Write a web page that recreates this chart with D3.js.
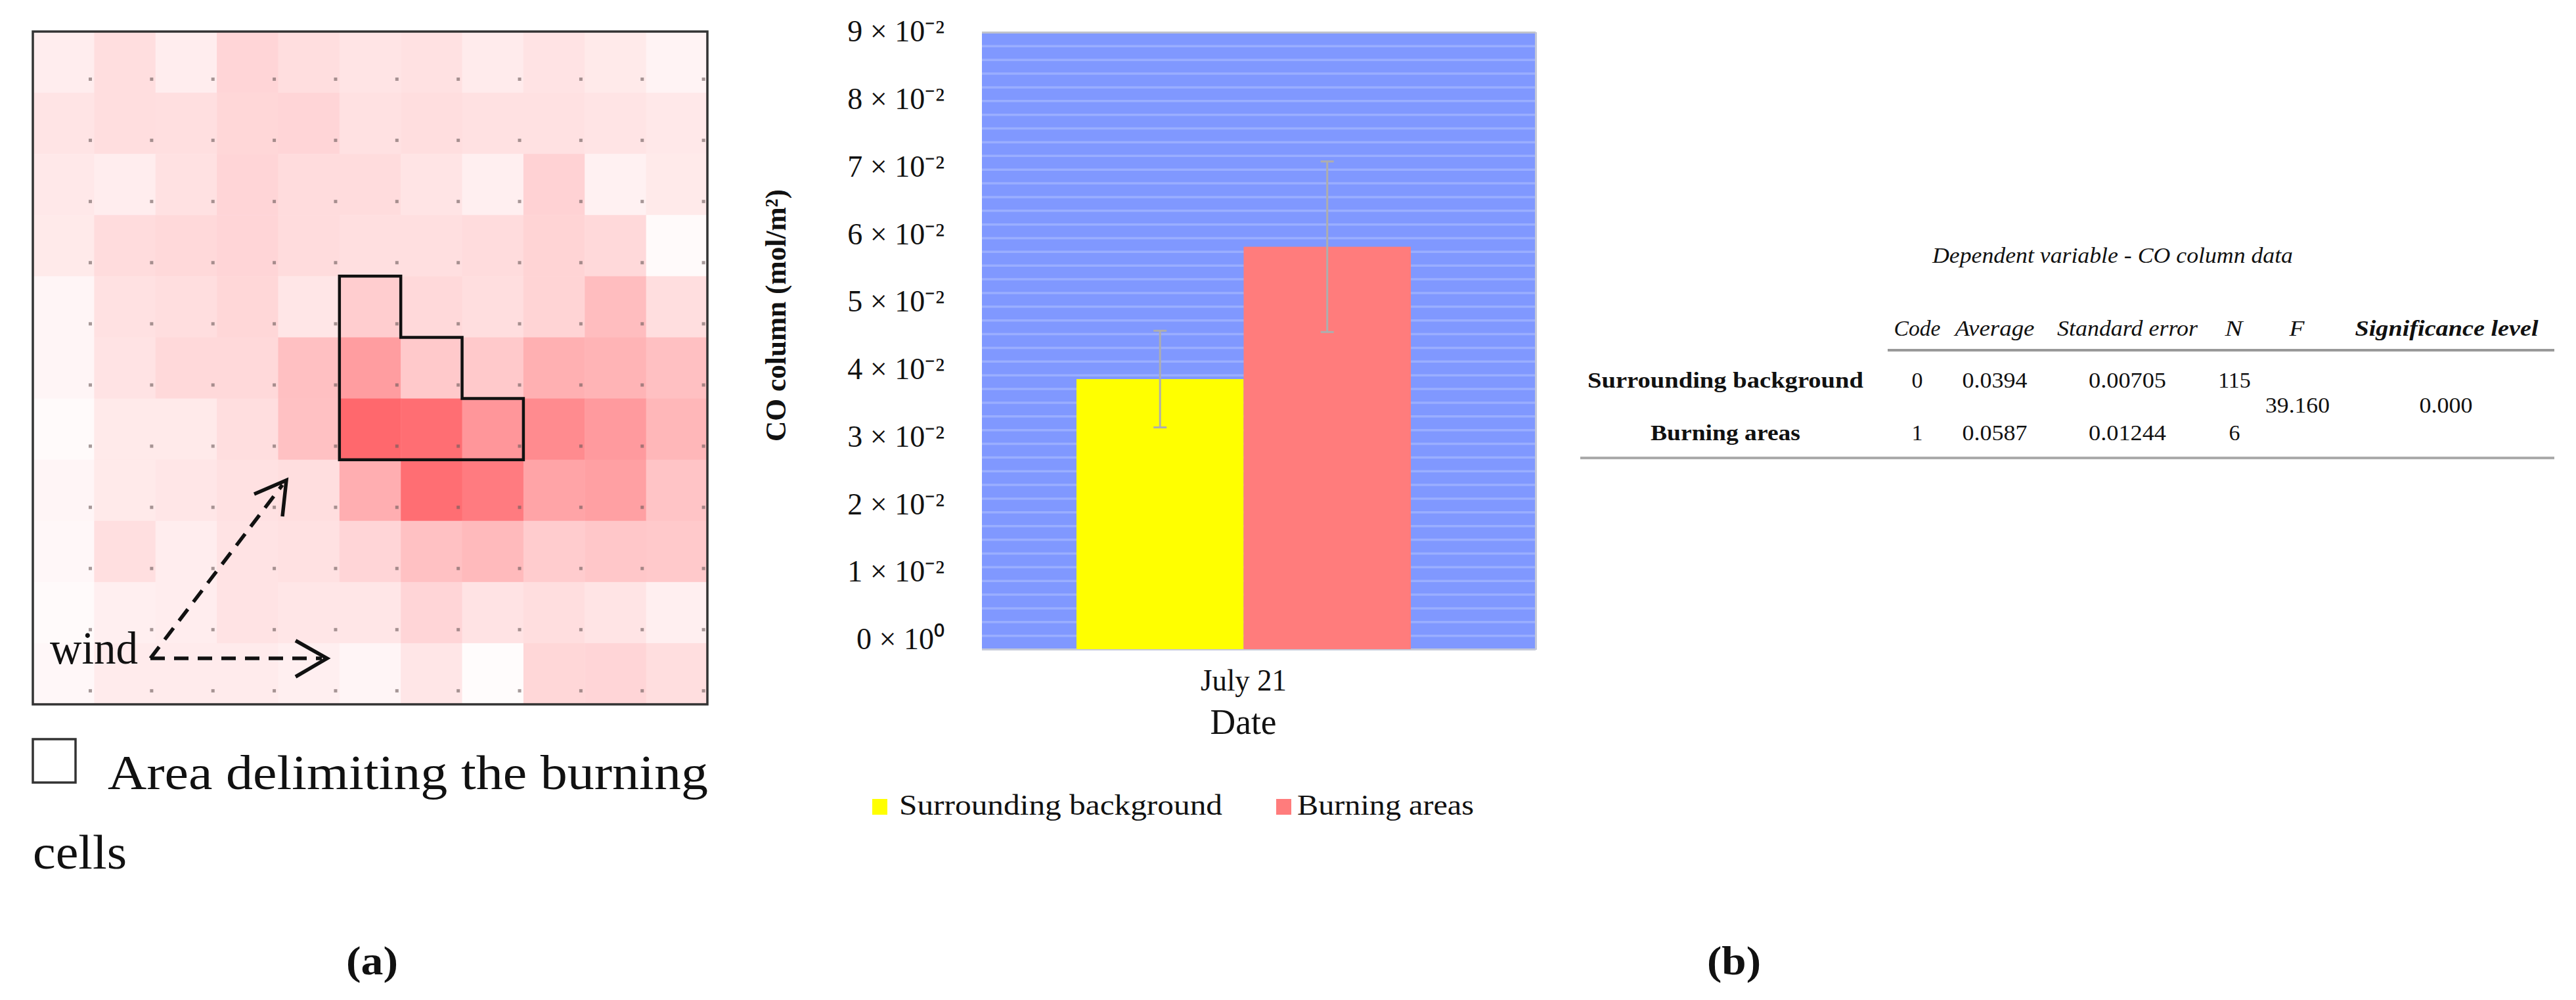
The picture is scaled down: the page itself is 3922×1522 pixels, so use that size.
<!DOCTYPE html>
<html><head><meta charset="utf-8">
<script src="https://cdn.jsdelivr.net/npm/d3@7/dist/d3.min.js"></script>
<style>html,body{margin:0;background:#fff}svg{display:block}text{font-family:"Liberation Serif",serif;fill:#111}</style>
</head><body><svg id="c" width="3922" height="1522"></svg>
<script>
// ---------- data ----------
const heatRows = [
 [.08,.17,.08,.22,.17,.13,.15,.09,.14,.10,.05],
 [.13,.17,.16,.21,.22,.15,.17,.15,.15,.13,.11],
 [.11,.08,.15,.22,.18,.18,.13,.07,.24,.06,.10],
 [.10,.18,.20,.22,.18,.16,.16,.18,.23,.20,.02],
 [.04,.15,.17,.21,.12,.27,.20,.17,.23,.38,.17],
 [.04,.14,.20,.20,.36,.60,.30,.30,.47,.44,.36],
 [.02,.10,.10,.17,.35,1.0,.95,.65,.73,.62,.42],
 [.04,.10,.12,.15,.17,.48,.95,.85,.55,.58,.33],
 [.03,.16,.08,.14,.15,.22,.35,.40,.28,.31,.30],
 [.02,.07,.08,.14,.12,.12,.22,.14,.17,.13,.07],
 [.03,.09,.09,.09,.07,.04,.12,.01,.21,.22,.17]
];
const burnOutline = [[5,4],[6,4],[6,5],[7,5],[7,6],[8,6],[8,7],[5,7]];
const dates = ["July 21"];
const seriesNames = ["Surrounding background","Burning areas"];
const seriesMeans = [0.0394,0.0587];
const seriesErrors = [0.00705,0.01244];
const seriesColors = ["#ffff00","#ff7c7c"];
const tickValues = [0,.01,.02,.03,.04,.05,.06,.07,.08,.09];
const tickLabels = ["0 × 10⁰","1 × 10⁻²","2 × 10⁻²","3 × 10⁻²","4 × 10⁻²","5 × 10⁻²","6 × 10⁻²","7 × 10⁻²","8 × 10⁻²","9 × 10⁻²"];
const tableHeader = ["Code","Average","Standard error","N","F","Significance level"];
const tableCode = ["0","1"];
const tableAverage = ["0.0394","0.0587"];
const tableStdErr = ["0.00705","0.01244"];
const tableN = ["115","6"];
const tableF = "39.160";
const tableSig = "0.000";

const svg = d3.select("#c");
function T(s,x,y,size,opt={}){
  const t = svg.append("text").attr("x",x).attr("y",y).attr("font-size",size)
    .attr("text-anchor",opt.anchor||"start").text(s);
  if(opt.bold) t.attr("font-weight","bold");
  if(opt.italic) t.attr("font-style","italic");
  if(opt.w) t.attr("textLength",opt.w).attr("lengthAdjust","spacingAndGlyphs");
  if(opt.rot) t.attr("transform",`rotate(${opt.rot} ${x} ${y})`);
  return t;
}

// ---------- panel (a) ----------
const cellX = d3.scaleLinear().domain([0,11]).range([50,1077]);
const cellY = d3.scaleLinear().domain([0,11]).range([48,1072]);
const heat = d3.scalePow().exponent(.85).domain([0,1]).range(["#ffffff","#ff686d"]);
const a = svg.append("g");
heatRows.forEach((row,j)=>row.forEach((v,i)=>{
  a.append("rect").attr("x",cellX(i)).attr("y",cellY(j))
   .attr("width",cellX(i+1)-cellX(i)+.5).attr("height",cellY(j+1)-cellY(j)+.5)
   .attr("fill",heat(v));
  a.append("rect").attr("x",cellX(i)+85).attr("y",cellY(j)+70)
   .attr("width",5).attr("height",5).attr("fill","#6a5a5a").attr("opacity",.6);
}));
a.append("rect").attr("x",cellX(0)).attr("y",cellY(0)).attr("width",cellX(11)-cellX(0)).attr("height",cellY(11)-cellY(0))
 .attr("fill","none").attr("stroke","#333").attr("stroke-width",3.5);
a.append("path").attr("d",d3.line().x(d=>cellX(d[0])).y(d=>cellY(d[1])).curve(d3.curveLinearClosed)(burnOutline))
 .attr("fill","none").attr("stroke","#111").attr("stroke-width",4.5).attr("stroke-linejoin","miter");
// wind arrows
const dash = {stroke:"#111","stroke-width":5.5,fill:"none"};
function P(d,dashed){const p=a.append("path").attr("d",d);Object.entries(dash).forEach(([k,v])=>p.attr(k,v));if(dashed)p.attr("stroke-dasharray","22 14");}
P("M229 1002L490 1002",true);
P("M450 975L498 1002L450 1030",false);
P("M229 1002L430 738",true);
P("M387 752L436 731L430 786",false);
T("wind",76,1010,70,{w:134});
// legend for the outline
a.append("rect").attr("x",50).attr("y",1125).attr("width",65).attr("height",66).attr("fill","#fff").attr("stroke","#333").attr("stroke-width",3.5);
T("Area delimiting the burning",164,1201,73,{w:914});
T("cells",50,1322,73,{w:143});
T("(a)",527,1483,62,{bold:true,w:79});

// ---------- panel (b) chart ----------
const y = d3.scaleLinear().domain([0,.09]).range([988,49]);
const yLab = d3.scaleLinear().domain([0,.09]).range([973,48]);
const x0 = d3.scaleBand().domain(dates).range([1495,2338]).paddingInner(0).paddingOuter(.328).align(.431);
const x1 = d3.scaleBand().domain(seriesNames).range([0,x0.bandwidth()]);
svg.append("rect").attr("x",1495).attr("y",y(.09)).attr("width",843).attr("height",y(0)-y(.09)).attr("fill","#8098ff");
const grid = svg.append("g").attr("transform","translate(1495,0)")
  .call(d3.axisRight(y).tickValues(d3.range(1,45).map(k=>k*.002)).tickSize(843).tickFormat(""));
grid.select(".domain").remove();
grid.selectAll("line").attr("stroke","#9aaeff").attr("stroke-width",3.5);
svg.append("rect").attr("x",1495).attr("y",48).attr("width",843).attr("height",3).attr("fill","#bfc2cc");
svg.append("rect").attr("x",1495).attr("y",987).attr("width",843).attr("height",3).attr("fill","#c4c8d8");
svg.append("rect").attr("x",2337).attr("y",49).attr("width",3).attr("height",940).attr("fill","#c4c8d8");
const bars = svg.append("g").attr("transform",`translate(${x0(dates[0])},0)`);
seriesNames.forEach((s,i)=>{
  bars.append("rect").attr("x",x1(s)).attr("y",y(seriesMeans[i])).attr("width",x1.bandwidth()).attr("height",y(0)-y(seriesMeans[i])).attr("fill",seriesColors[i]);
});
seriesNames.forEach((s,i)=>{
  const cx = x1(s)+x1.bandwidth()/2, hi=y(seriesMeans[i]+seriesErrors[i]), lo=y(seriesMeans[i]-seriesErrors[i]);
  const g = bars.append("g").attr("stroke","#aeaeae").attr("stroke-width",3).attr("fill","none");
  g.append("line").attr("x1",cx).attr("x2",cx).attr("y1",hi).attr("y2",lo);
  g.append("line").attr("x1",cx-10).attr("x2",cx+10).attr("y1",hi).attr("y2",hi);
  g.append("line").attr("x1",cx-10).attr("x2",cx+10).attr("y1",lo).attr("y2",lo);
});
// y tick labels
const ax = svg.append("g").attr("transform","translate(1438,0)")
  .call(d3.axisLeft(yLab).tickValues(tickValues).tickSize(0).tickPadding(0).tickFormat((d,i)=>tickLabels[i]));
ax.select(".domain").remove();
ax.selectAll("text").attr("font-size",46).attr("font-family","Liberation Serif").attr("fill","#111");
T("CO column (mol/m²)",1196,480,45,{anchor:"middle",bold:true,rot:-90,w:384});
T(dates[0],x0(dates[0])+x0.bandwidth()/2,1051,47,{anchor:"middle",w:131});
T("Date",1893,1117,54,{anchor:"middle",w:101});
// legend
const lx = [1328,1943], lt=[1369,1975], lw=[492,269];
seriesNames.forEach((s,i)=>{
  svg.append("rect").attr("x",lx[i]).attr("y",1216).attr("width",23).attr("height",24).attr("fill",seriesColors[i]);
  T(s,lt[i],1240,45,{w:lw[i]});
});
T("(b)",2599,1483,62,{bold:true,w:82});

// ---------- panel (b) table ----------
T("Dependent variable - CO column data",2942,400,34,{italic:true,w:549});
const hdrX=[2919,3037,3239,3401,3497,3725], hdrW=[71,121,214,27,23,279];
tableHeader.forEach((h,i)=>T(h,hdrX[i],511,34,{anchor:"middle",italic:true,bold:i==5,w:hdrW[i]}));
svg.append("rect").attr("x",2874).attr("y",531).attr("width",1015).attr("height",4).attr("fill","#999");
const rowY=[590,670];
T(seriesNames[0],2627,rowY[0],34,{anchor:"middle",bold:true,w:420});
T(seriesNames[1],2627,rowY[1],34,{anchor:"middle",bold:true,w:228});
[0,1].forEach(r=>{
  T(tableCode[r],2919,rowY[r],34,{anchor:"middle"});
  T(tableAverage[r],3037,rowY[r],34,{anchor:"middle",w:99});
  T(tableStdErr[r],3239,rowY[r],34,{anchor:"middle",w:118});
  T(tableN[r],3402,rowY[r],34,{anchor:"middle"});
});
T(tableF,3498,628,34,{anchor:"middle",w:98});
T(tableSig,3724,628,34,{anchor:"middle",w:81});
svg.append("rect").attr("x",2406).attr("y",695).attr("width",1483).attr("height",4).attr("fill","#aaa");
</script></body></html>
